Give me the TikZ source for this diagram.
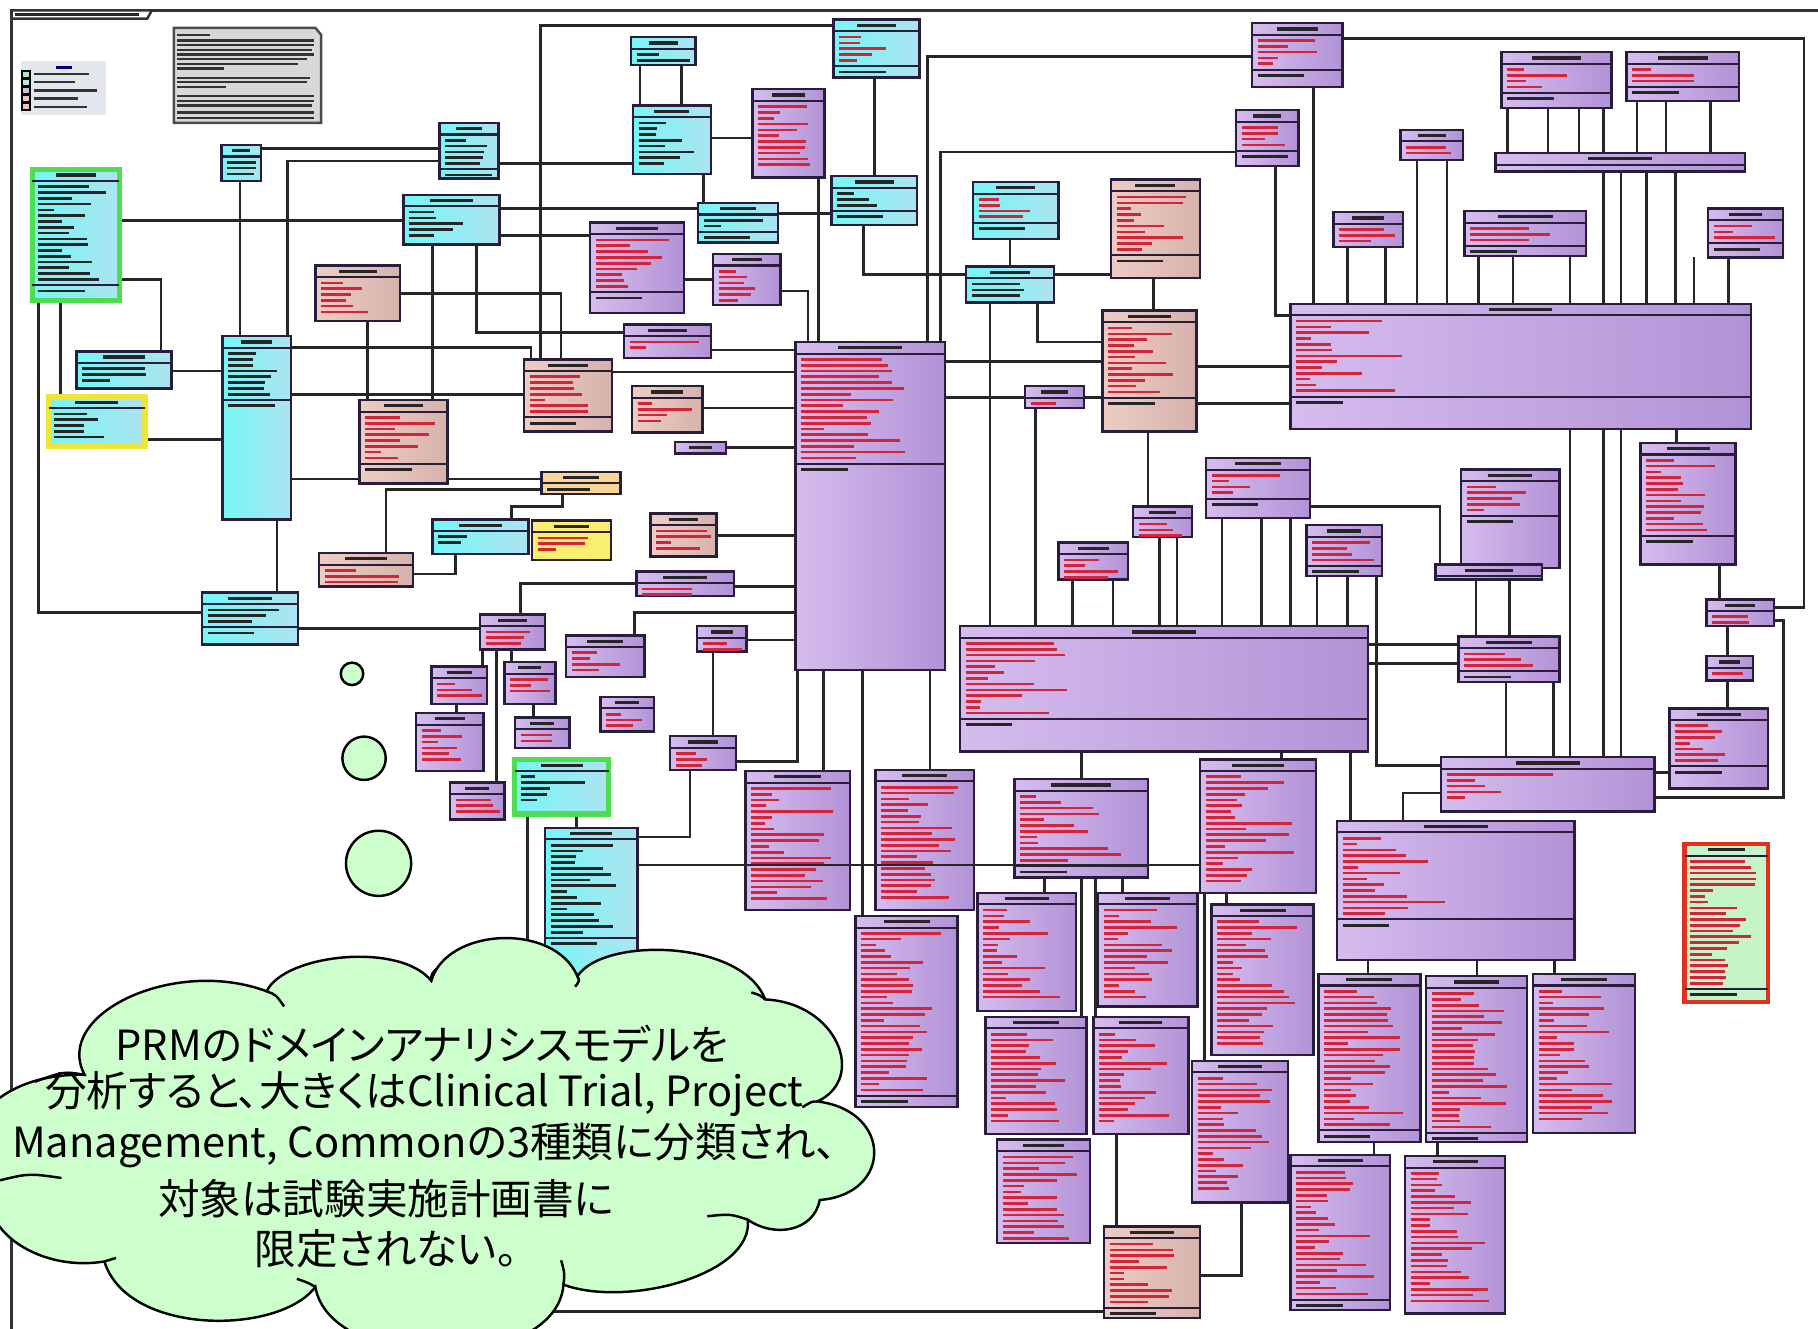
\documentclass[tikz,border=0pt]{standalone}
\usepackage{fontspec}
\newfontfamily\cjk[RawFeature=+palt]{Noto Sans CJK JP}
\usetikzlibrary{fit,calc}
\pgfdeclarelayer{background}
\pgfsetlayers{background,main}
\definecolor{purpleL}{RGB}{214,188,238}
\definecolor{purpleR}{RGB}{178,146,214}
\definecolor{cyanL}{RGB}{118,246,246}
\definecolor{cyanR}{RGB}{172,228,240}
\definecolor{salmonL}{RGB}{238,204,196}
\definecolor{salmonR}{RGB}{214,178,172}
\definecolor{orangeF}{RGB}{248,214,150}
\definecolor{yellowF}{RGB}{250,238,110}
\definecolor{greenE}{RGB}{80,220,80}
\definecolor{yellowE}{RGB}{240,228,60}
\definecolor{redE}{RGB}{220,50,30}
\definecolor{mintF}{RGB}{196,244,200}
\definecolor{boxline}{RGB}{40,30,60}
\definecolor{textred}{RGB}{212,36,58}
\definecolor{noteF}{RGB}{216,216,216}
\definecolor{legendF}{RGB}{228,230,238}
\definecolor{cloudF}{RGB}{204,255,204}
\definecolor{lg1}{RGB}{170,232,200}
\definecolor{lg2}{RGB}{180,230,236}
\definecolor{lg3}{RGB}{200,190,222}
\definecolor{lg4}{RGB}{232,200,190}
\definecolor{lg5}{RGB}{236,196,180}

\tikzset{
  cls/.style={draw=boxline, line width=0.6pt, inner sep=0pt, outer sep=0pt},
  purplebox/.style={cls, left color=purpleL, right color=purpleR},
  cyanbox/.style={cls, left color=cyanL, right color=cyanR},
  salmonbox/.style={cls, left color=salmonL, right color=salmonR},
  orangebox/.style={cls, fill=orangeF},
  yellowbox/.style={cls, fill=yellowF},
  greenframe/.style={cyanbox, draw=greenE, line width=1.3pt},
  yellowframe/.style={cyanbox, draw=yellowE, line width=1.3pt},
  redframe/.style={cls, fill=mintF, draw=redE, line width=1.1pt},
  sepline/.style={draw=boxline, line width=0.5pt},
  titlebar/.style={draw=black!85, line width=0.8pt},
  textbar/.style={draw=#1, line width=0.65pt},
  notebar/.style={draw=black!80, line width=0.55pt},
  notebox/.style={draw=black!70, fill=noteF, line width=0.6pt},
  frame/.style={draw=black!80, line width=0.6pt},
  conn/.style={draw=black!85, line width=0.65pt},
  cloudshape/.style={fill=cloudF, draw=black, line width=0.6pt},
  cloudarc/.style={draw=black, line width=0.6pt},
  cloudtext/.style={font=\cjk\fontsize{10.2}{12}\selectfont, inner sep=0pt},
}

% class box: name, x1, y1, x2, y2, style, rows, row colour
\newcommand{\umlclass}[8]{%
  \node[#6, fit={(#2,#3) (#4,#5)}] (#1) {};
  \draw[sepline] (#2,#3+10) -- (#4,#3+10);
  \pgfmathsetmacro{\hw}{min(0.45*(#4-#2),55)}
  \draw[titlebar] ({(#2+#4)/2-\hw/2},#3+5) -- ++(\hw,0);
  \ifnum#7>0
    \foreach \r in {1,...,#7} {
      \pgfmathsetmacro{\len}{min(#4-#2-9,12+rnd*min(0.65*(#4-#2),80))}
      \draw[textbar=#8] (#2+5,#3+10+\r*5) -- ++(\len,0);
    }
  \fi
  \pgfmathtruncatemacro{\ops}{(#3+10+#7*5+12)<(#5)}
  \ifnum\ops=1
    \draw[sepline] (#2,#3+10+#7*5+5) -- (#4,#3+10+#7*5+5);
    \draw[textbar=black!85] (#2+5,#3+10+#7*5+10) -- ++({min(#4-#2-9,40)},0);
  \fi
}

\begin{document}
\begin{tikzpicture}[x=0.01cm, y=-0.01cm]
\useasboundingbox (0,0) rectangle (1568,1146);
\begin{pgfonlayer}{background}
  \fill[white] (0,0) rectangle (1568,1146);
\end{pgfonlayer}
\clip (0,0) rectangle (1568,1146);
\pgfmathsetseed{11}

% package frame and tab
\draw[frame] (10,1146) -- (10,9) -- (1568,9);
\draw[frame, fill=white] (10,9) -- (131,9) -- (127,16) -- (10,16) -- cycle;
\draw[titlebar] (13,12.5) -- (120,12.5);

% legend
\fill[legendF] (18,53) rectangle (91,99);
\draw[draw=blue!50!black, line width=0.8pt] (48,58) -- (62,58);
\foreach \yy/\cc/\ll in {64/lg1/48, 71/lg2/36, 78/lg3/55, 85/lg4/38, 92/lg5/46} {
  \draw[line width=0.5pt, fill=\cc] (19,\yy-3) rectangle (26,\yy+3);
  \draw[notebar] (29,\yy) -- ++(\ll,0);
}

% note
\draw[notebox] (150,24) -- (272,24) -- (277,30) -- (277,106) -- (150,106) -- cycle;
\foreach \yy/\ll in {30/28, 35/118, 39/118, 43/116, 47/118, 51/112, 55/104, 59/40,
                     67/114, 71/112, 75/42, 83/118, 87/118, 91/116, 97/118, 102/118}
  \draw[notebar] (153,\yy) -- ++(\ll,0);

% cyan classes
\umlclass{c1}{28}{146}{103}{259}{greenframe}{17}{black!85}
\umlclass{c2}{191}{125}{225}{156}{cyanbox}{3}{black!85}
\umlclass{c3}{379}{106}{430}{154}{cyanbox}{5}{black!85}
\umlclass{c4}{544}{32}{600}{56}{cyanbox}{2}{black!85}
\umlclass{c5}{546}{91}{613}{150}{cyanbox}{8}{black!85}
\umlclass{c6}{719}{17}{793}{67}{cyanbox}{5}{textred}
\umlclass{c7}{348}{168}{431}{211}{cyanbox}{5}{black!85}
\umlclass{c8}{717}{152}{791}{194}{cyanbox}{3}{black!85}
\umlclass{c9}{602}{175}{671}{209}{cyanbox}{2}{black!85}
\umlclass{c10}{839}{157}{913}{206}{cyanbox}{4}{textred}
\umlclass{c11}{833}{230}{909}{261}{cyanbox}{3}{black!85}
\umlclass{c12}{66}{303}{148}{335}{cyanbox}{3}{black!85}
\umlclass{c13}{42}{342}{125}{385}{yellowframe}{5}{black!85}
\umlclass{c14}{192}{290}{251}{448}{cyanbox}{8}{black!85}
\umlclass{c15}{373}{448}{456}{478}{cyanbox}{2}{black!85}
\umlclass{c16}{174}{511}{257}{556}{cyanbox}{3}{black!85}
\umlclass{c17}{444}{655}{525}{702}{greenframe}{5}{black!85}
\umlclass{c18}{470}{714}{550}{840}{cyanbox}{16}{black!85}

% salmon, orange and yellow classes
\umlclass{s1}{272}{229}{345}{277}{salmonbox}{6}{textred}
\umlclass{s2}{310}{345}{386}{417}{salmonbox}{8}{textred}
\umlclass{s3}{452}{310}{528}{372}{salmonbox}{7}{textred}
\umlclass{s4}{545}{333}{606}{373}{salmonbox}{4}{textred}
\umlclass{s5}{561}{443}{618}{480}{salmonbox}{4}{textred}
\umlclass{s6}{275}{477}{356}{506}{salmonbox}{3}{textred}
\umlclass{s7}{958}{155}{1035}{240}{salmonbox}{10}{textred}
\umlclass{s8}{951}{268}{1032}{372}{salmonbox}{12}{textred}
\umlclass{s9}{952}{1058}{1035}{1137}{salmonbox}{11}{textred}
\umlclass{o1}{467}{407}{535}{426}{orangebox}{1}{black!85}
\umlclass{y1}{459}{449}{527}{483}{yellowbox}{3}{textred}

% purple classes
\umlclass{p1}{649}{77}{711}{153}{purplebox}{11}{textred}
\umlclass{p2}{509}{192}{590}{270}{purplebox}{9}{textred}
\umlclass{p3}{615}{219}{673}{263}{purplebox}{6}{textred}
\umlclass{p4}{538}{280}{613}{309}{purplebox}{2}{textred}
\umlclass{p5}{686}{295}{815}{578}{purplebox}{18}{textred}
\umlclass{p6}{582}{381}{626}{391}{purplebox}{0}{textred}
\umlclass{p7}{414}{530}{470}{560}{purplebox}{3}{textred}
\umlclass{p8}{372}{575}{420}{607}{purplebox}{3}{textred}
\umlclass{p9}{435}{571}{479}{607}{purplebox}{3}{textred}
\umlclass{p10}{359}{615}{417}{665}{purplebox}{6}{textred}
\umlclass{p11}{444}{619}{491}{645}{purplebox}{2}{textred}
\umlclass{p12}{388}{675}{435}{707}{purplebox}{3}{textred}
\umlclass{p13}{549}{493}{633}{514}{purplebox}{2}{textred}
\umlclass{p14}{488}{548}{556}{584}{purplebox}{4}{textred}
\umlclass{p15}{601}{540}{644}{562}{purplebox}{2}{textred}
\umlclass{p16}{518}{601}{564}{631}{purplebox}{3}{textred}
\umlclass{p17}{578}{635}{635}{664}{purplebox}{3}{textred}
\umlclass{p18}{884}{333}{935}{352}{purplebox}{1}{textred}
\umlclass{p19}{977}{437}{1028}{463}{purplebox}{3}{textred}
\umlclass{p20}{913}{468}{973}{500}{purplebox}{4}{textred}
\umlclass{p21}{828}{540}{1180}{648}{purplebox}{13}{textred}
\umlclass{p22}{1040}{395}{1130}{447}{purplebox}{4}{textred}
\umlclass{p23}{1127}{453}{1192}{497}{purplebox}{4}{textred}
\umlclass{p24}{1260}{405}{1345}{490}{purplebox}{5}{textred}
\umlclass{p25}{1238}{487}{1330}{500}{purplebox}{0}{textred}
\umlclass{p26}{1258}{549}{1345}{588}{purplebox}{3}{textred}
\umlclass{p27}{1415}{382}{1497}{487}{purplebox}{13}{textred}
\umlclass{p28}{1472}{517}{1530}{540}{purplebox}{2}{textred}
\umlclass{p29}{1472}{566}{1512}{587}{purplebox}{1}{textred}
\umlclass{p30}{1440}{611}{1525}{680}{purplebox}{7}{textred}
\umlclass{p31}{1243}{653}{1427}{700}{purplebox}{5}{textred}
\umlclass{p32}{1153}{708}{1358}{828}{purplebox}{14}{textred}
\umlclass{p33}{1080}{20}{1158}{75}{purplebox}{5}{textred}
\umlclass{p34}{1066}{95}{1120}{143}{purplebox}{4}{textred}
\umlclass{p35}{1208}{112}{1262}{138}{purplebox}{2}{textred}
\umlclass{p36}{1295}{45}{1390}{93}{purplebox}{4}{textred}
\umlclass{p37}{1403}{45}{1500}{87}{purplebox}{3}{textred}
\umlclass{p38}{1290}{132}{1505}{148}{purplebox}{0}{textred}
\umlclass{p39}{1150}{183}{1210}{213}{purplebox}{3}{textred}
\umlclass{p40}{1263}{182}{1368}{221}{purplebox}{3}{textred}
\umlclass{p41}{1473}{180}{1538}{222}{purplebox}{3}{textred}
\umlclass{p42}{1113}{262}{1510}{370}{purplebox}{13}{textred}
\umlclass{p43}{643}{665}{733}{785}{purplebox}{20}{textred}
\umlclass{p44}{755}{664}{840}{785}{purplebox}{20}{textred}
\umlclass{p45}{738}{790}{826}{955}{purplebox}{28}{textred}
\umlclass{p46}{875}{672}{990}{757}{purplebox}{12}{textred}
\umlclass{p47}{1035}{655}{1135}{770}{purplebox}{19}{textred}
\umlclass{p48}{843}{770}{928}{872}{purplebox}{16}{textred}
\umlclass{p49}{947}{770}{1033}{868}{purplebox}{16}{textred}
\umlclass{p50}{1045}{780}{1133}{910}{purplebox}{22}{textred}
\umlclass{p51}{850}{877}{937}{978}{purplebox}{16}{textred}
\umlclass{p52}{943}{877}{1025}{978}{purplebox}{16}{textred}
\umlclass{p53}{860}{983}{940}{1072}{purplebox}{15}{textred}
\umlclass{p54}{1028}{915}{1111}{1037}{purplebox}{20}{textred}
\umlclass{p55}{1137}{840}{1225}{985}{purplebox}{24}{textred}
\umlclass{p56}{1230}{842}{1317}{985}{purplebox}{24}{textred}
\umlclass{p57}{1322}{840}{1410}{977}{purplebox}{23}{textred}
\umlclass{p58}{1113}{996}{1199}{1130}{purplebox}{22}{textred}
\umlclass{p59}{1212}{997}{1298}{1133}{purplebox}{23}{textred}
\umlclass{g1}{1453}{728}{1525}{864}{redframe}{22}{textred}

\coordinate (hidA) at (440,1131);
\coordinate (hidB) at (455,850);

% associations, behind the classes
\begin{pgfonlayer}{background}
  % left group
  \draw[conn] (c1.east |- 0,190) -- (c7.west |- 0,190);
  \draw[conn] (c2.east |- 0,128) -- (c3.west |- 0,128);
  \draw[conn] (248,0 |- c14.north) |- (c3.west |- 0,139);
  \draw[conn] (207,0 |- c2.south) -- (207,0 |- c14.north);
  \draw[conn] (33,0 |- c1.south) |- (c16.west |- 0,528);
  \draw[conn] (52,0 |- c1.south) -- (52,0 |- c13.north);
  \draw[conn] (c1.east |- 0,241) -| (139,0 |- c12.north);
  \draw[conn] (c12.east |- 0,320) -- (c14.west |- 0,320);
  \draw[conn] (c13.east |- 0,379) -- (c14.west |- 0,379);
  \draw[conn] (c14.east |- 0,300) -| (458,0 |- s3.north);
  \draw[conn] (c14.east |- 0,340) -- (s3.west |- 0,340);
  \draw[conn] (c6.west |- 0,22) -| (466,0 |- s3.north);
  \draw[conn] (s1.east |- 0,253) -| (484,0 |- s3.north);
  \draw[conn] (317,0 |- s1.south) -- (317,0 |- s2.north);
  \draw[conn] (373,0 |- c7.south) -- (373,0 |- s2.north);
  \draw[conn] (411,0 |- c7.south) |- (p4.west |- 0,287);
  \draw[conn] (c3.east |- 0,141) -- (c5.west |- 0,141);
  \draw[conn] (c7.east |- 0,180) -- (c9.west |- 0,180);
  \draw[conn] (c7.east |- 0,203) -- (p2.west |- 0,203);
  \draw[conn] (552,0 |- c4.south) -- (552,0 |- c5.north);
  \draw[conn] (588,0 |- c4.south) -- (588,0 |- c5.north);
  \draw[conn] (c5.east |- 0,119) -- (p1.west |- 0,119);
  \draw[conn] (607,0 |- c5.south) -- (607,0 |- c9.north);
  \draw[conn] (754,0 |- c6.south) -- (754,0 |- c8.north);
  \draw[conn] (745,0 |- c8.south) |- (c11.west |- 0,237);
  \draw[conn] (c9.east |- 0,184) -- (c8.west |- 0,184);
  \draw[conn] (706,0 |- p1.south) -- (706,0 |- p5.north);
  \draw[conn] (p3.east |- 0,251) -| (697,0 |- p5.north);
  \draw[conn] (p2.east |- 0,241) -- (p3.west |- 0,241);
  \draw[conn] (p4.east |- 0,302) -- (p5.west |- 0,302);
  \draw[conn] (s3.east |- 0,321) -- (p5.west |- 0,321);
  \draw[conn] (s4.east |- 0,352) -- (p5.west |- 0,352);
  \draw[conn] (p6.east |- 0,386) -- (p5.west |- 0,386);
  \draw[conn] (s5.east |- 0,462) -- (p5.west |- 0,462);
  \draw[conn] (p13.east |- 0,506) -- (p5.west |- 0,506);
  \draw[conn] (p5.west |- 0,528) -| (547,0 |- p14.north);
  \draw[conn] (p15.east |- 0,552) -- (p5.west |- 0,552);
  \draw[conn] (688,0 |- p5.south) |- (p17.east |- 0,657);
  \draw[conn] (710,0 |- p5.south) -- (710,0 |- p43.north);
  \draw[conn] (744,0 |- p5.south) -- (744,0 |- p45.north);
  \draw[conn] (802,0 |- p5.south) -- (802,0 |- p44.north);
  \draw[conn] (800,0 |- p5.north) |- (p33.west |- 0,49);
  \draw[conn] (811,0 |- p5.north) |- (p34.west |- 0,131);
  % centre group
  \draw[conn] (871,0 |- c10.south) -- (871,0 |- c11.north);
  \draw[conn] (c11.east |- 0,237) -- (s7.west |- 0,237);
  \draw[conn] (895,0 |- c11.south) |- (s8.west |- 0,295);
  \draw[conn] (854,0 |- c11.south) -- (854,0 |- p21.north);
  \draw[conn] (p5.east |- 0,312) -- (s8.west |- 0,312);
  \draw[conn] (p5.east |- 0,343) -- (p18.west |- 0,343);
  \draw[conn] (p18.east |- 0,343) -- (s8.west |- 0,343);
  \draw[conn] (893,0 |- p18.south) -- (893,0 |- p21.north);
  \draw[conn] (995,0 |- s7.south) -- (995,0 |- s8.north);
  \draw[conn] (990,0 |- s8.south) -- (990,0 |- p19.north);
  \draw[conn] (s8.east |- 0,316) -- (p42.west |- 0,316);
  \draw[conn] (s8.east |- 0,348) -- (p42.west |- 0,348);
  \draw[conn] (925,0 |- p20.south) -- (925,0 |- p21.north);
  \draw[conn] (960,0 |- p20.south) -- (960,0 |- p21.north);
  \draw[conn] (1000,0 |- p19.south) -- (1000,0 |- p21.north);
  \draw[conn] (1015,0 |- p19.south) -- (1015,0 |- p21.north);
  \draw[conn] (1054,0 |- p22.south) -- (1054,0 |- p21.north);
  \draw[conn] (1088,0 |- p22.south) -- (1088,0 |- p21.north);
  \draw[conn] (1113,0 |- p22.south) -- (1113,0 |- p21.north);
  \draw[conn] (1136,0 |- p23.south) -- (1136,0 |- p21.north);
  \draw[conn] (1162,0 |- p23.south) -- (1162,0 |- p21.north);
  \draw[conn] (1187,0 |- p23.south) |- (p31.west |- 0,660);
  \draw[conn] (p22.east |- 0,437) -| (1242,0 |- p25.north);
  \draw[conn] (p21.east |- 0,556) -- (p26.west |- 0,556);
  \draw[conn] (p21.east |- 0,572) -- (p26.west |- 0,572);
  \draw[conn] (1273,0 |- p25.south) -- (1273,0 |- p26.north);
  \draw[conn] (1302,0 |- p25.south) -- (1302,0 |- p26.north);
  \draw[conn] (1299,0 |- p26.south) -- (1299,0 |- p31.north);
  \draw[conn] (1340,0 |- p26.south) -- (1340,0 |- p31.north);
  % right group
  \draw[conn] (1354,0 |- p40.south) -- (1354,0 |- p31.north);
  \draw[conn] (1383,0 |- p36.south) -- (1383,0 |- p31.north);
  \draw[conn] (1398,0 |- p38.south) -- (1398,0 |- p31.north);
  \draw[conn] (1446,0 |- p42.south) -- (1446,0 |- p27.north);
  \draw[conn] (1483,0 |- p27.south) -- (1483,0 |- p28.north);
  \draw[conn] (1490,0 |- p28.south) -- (1490,0 |- p29.north);
  \draw[conn] (1490,0 |- p29.south) -- (1490,0 |- p30.north);
  \draw[conn] (p31.east |- 0,688) -| (1538,535) -- (p28.east |- 0,535);
  \draw[conn] (p33.east |- 0,33) -| (1556,524) -- (p28.east |- 0,524);
  \draw[conn] (p31.east |- 0,666) -- (p30.west |- 0,666);
  \draw[conn] (p31.west |- 0,684) -| (1210,0 |- p32.north);
  \draw[conn] (1165,0 |- p21.south) -- (1165,0 |- p32.north);
  \draw[conn] (1105,0 |- p21.south) -- (1105,0 |- p47.north);
  \draw[conn] (933,0 |- p21.south) -- (933,0 |- p46.north);
  \draw[conn] (1133,0 |- p33.south) -- (1133,0 |- p42.north);
  \draw[conn] (1100,0 |- p34.south) |- (p42.west |- 0,272);
  \draw[conn] (1222,0 |- p35.south) -- (1222,0 |- p42.north);
  \draw[conn] (1248,0 |- p35.south) -- (1248,0 |- p42.north);
  \draw[conn] (1162,0 |- p39.south) -- (1162,0 |- p42.north);
  \draw[conn] (1195,0 |- p39.south) -- (1195,0 |- p42.north);
  \draw[conn] (1275,0 |- p40.south) -- (1275,0 |- p42.north);
  \draw[conn] (1305,0 |- p40.south) -- (1305,0 |- p42.north);
  \draw[conn] (1461,0 |- p41.south) -- (1461,0 |- p42.north);
  \draw[conn] (1491,0 |- p41.south) -- (1491,0 |- p42.north);
  \draw[conn] (1420,0 |- p38.south) -- (1420,0 |- p42.north);
  \draw[conn] (1445,0 |- p38.south) -- (1445,0 |- p42.north);
  \draw[conn] (1300,0 |- p36.south) -- (1300,0 |- p38.north);
  \draw[conn] (1335,0 |- p36.south) -- (1335,0 |- p38.north);
  \draw[conn] (1362,0 |- p36.south) -- (1362,0 |- p38.north);
  \draw[conn] (1412,0 |- p37.south) -- (1412,0 |- p38.north);
  \draw[conn] (1437,0 |- p37.south) -- (1437,0 |- p38.north);
  \draw[conn] (1475,0 |- p37.south) -- (1475,0 |- p38.north);
  % lower group
  \draw[conn] (901,0 |- p46.south) -- (901,0 |- p48.north);
  \draw[conn] (933,0 |- p46.south) -- (933,0 |- p51.north);
  \draw[conn] (945,0 |- p46.south) -- (945,0 |- p52.north);
  \draw[conn] (968,0 |- p46.south) -- (968,0 |- p49.north);
  \draw[conn] (1039,0 |- p47.south) -- (1039,0 |- p54.north);
  \draw[conn] (1058,0 |- p47.south) -- (1058,0 |- p50.north);
  \draw[conn] (963,0 |- p52.south) -- (963,0 |- s9.north);
  \draw[conn] (1071,0 |- p54.south) |- (s9.east |- 0,1100);
  \draw[conn] (1180,0 |- p32.south) -- (1180,0 |- p55.north);
  \draw[conn] (1274,0 |- p32.south) -- (1274,0 |- p56.north);
  \draw[conn] (1341,0 |- p32.south) -- (1341,0 |- p57.north);
  \draw[conn] (1185,0 |- p55.south) -- (1185,0 |- p58.north);
  \draw[conn] (1240,0 |- p56.south) -- (1240,0 |- p59.north);
  \draw[conn] (s9.west |- 0,1131) -- (hidA);
  % lower left group
  \draw[conn] (239,0 |- c14.south) -- (239,0 |- c16.north);
  \draw[conn] (c16.east |- 0,542) -- (p7.west |- 0,542);
  \draw[conn] (449,0 |- p7.north) |- (p13.west |- 0,503);
  \draw[conn] (c14.east |- 0,413) -- (o1.west |- 0,413);
  \draw[conn] (333,0 |- s6.north) |- (o1.west |- 0,422);
  \draw[conn] (s6.east |- 0,495) -| (393,0 |- c15.south);
  \draw[conn] (485,0 |- o1.south) |- (441,437) -- (441,0 |- c15.north);
  \draw[conn] (416,0 |- p7.south) -- (416,0 |- p8.north);
  \draw[conn] (428,0 |- p7.south) -- (428,0 |- p12.north);
  \draw[conn] (441,0 |- p7.south) -- (441,0 |- p9.north);
  \draw[conn] (394,0 |- p8.south) -- (394,0 |- p10.north);
  \draw[conn] (460,0 |- p9.south) -- (460,0 |- p11.north);
  \draw[conn] (497,0 |- c17.south) -- (497,0 |- c18.north);
  \draw[conn] (455,0 |- c17.south) -- (hidB);
  \draw[conn] (615,0 |- p15.south) -- (615,0 |- p17.north);
  \draw[conn] (595,0 |- p17.south) |- (c18.east |- 0,722);
\end{pgfonlayer}
\draw[conn] (c18.east |- 0,746) -- (p47.west |- 0,746);

% thought bubbles
\draw[cloudshape] (303.6,581.2) circle[radius=9.7];
\draw[cloudshape] (314,654) circle[radius=18.7];
\draw[cloudshape] (326.5,744.6) circle[radius=28.1];

% cloud callout
\draw[cloudshape] (73,927)
  .. controls (45,875) and (150,825) .. (230,855)
  .. controls (245,823) and (345,812) .. (372,846)
  .. controls (385,800) and (478,795) .. (498,842)
  .. controls (520,808) and (640,810) .. (660,862)
  .. controls (722,865) and (748,930) .. (705,950)
  .. controls (770,958) and (770,1030) .. (707,1035)
  .. controls (702,1062) and (668,1068) .. (645,1052)
  .. controls (650,1100) and (540,1128) .. (486,1108)
  .. controls (480,1185) and (285,1185) .. (272,1110)
  .. controls (240,1152) and (110,1152) .. (90,1088)
  .. controls (30,1098) and (-25,1055) .. (-5,1018)
  .. controls (-50,1000) and (-20,925) .. (73,927) -- cycle;
\draw[cloudarc] (73,927) .. controls (55,924) .. (30,933);
\draw[cloudarc] (230,855) .. controls (238,858) .. (245,868);
\draw[cloudarc] (372,846) .. controls (372,840) .. (377,835);
\draw[cloudarc] (498,842) .. controls (500,846) .. (496,851);
\draw[cloudarc] (660,862) .. controls (655,858) .. (648,856);
\draw[cloudarc] (705,950) .. controls (700,950) .. (692,955);
\draw[cloudarc] (645,1052) .. controls (630,1047) .. (610,1049);
\draw[cloudarc] (486,1108) .. controls (487,1098) .. (484,1087);
\draw[cloudarc] (272,1110) .. controls (265,1106) .. (256,1103);
\draw[cloudarc] (90,1088) .. controls (95,1086) .. (100,1085);
\draw[cloudarc] (0,1018) .. controls (25,1012) .. (53,1016);

\node[cloudtext] (line1) at (364,900) {PRMのドメインアナリシスモデルを};
\node[cloudtext] (line2) at (366,944) {分析すると、大きくはClinical Trial, Project};
\node[cloudtext] (line3) at (366,988) {Management, Commonの3種類に分類され、};
\node[cloudtext] (line4) at (333,1034) {対象は試験実施計画書に};
\node[cloudtext] (line5) at (333,1077) {限定されない。};
\end{tikzpicture}
\end{document}
